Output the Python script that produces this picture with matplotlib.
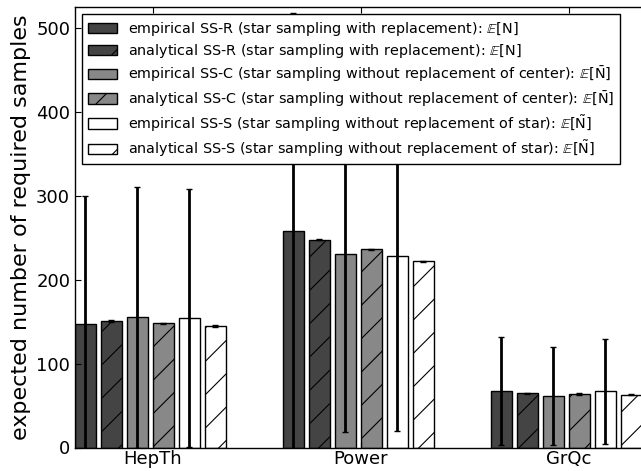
import numpy as np
import matplotlib
matplotlib.use("Agg")
import matplotlib.pyplot as plt

plt.rcParams['hatch.linewidth'] = 0.8
plt.rcParams['font.family'] = ['DejaVu Sans']
plt.rcParams['mathtext.fontset'] = 'dejavusans'

datasets = ["HepTh", "Power", "GrQc"]
labels = [
    r"empirical SS-R (star sampling with replacement): $\mathbb{E}[\mathrm{N}]$",
    r"analytical SS-R (star sampling with replacement): $\mathbb{E}[\mathrm{N}]$",
    r"empirical SS-C (star sampling without replacement of center): $\mathbb{E}[\bar{\mathrm{N}}]$",
    r"analytical SS-C (star sampling without replacement of center): $\mathbb{E}[\bar{\mathrm{N}}]$",
    r"empirical SS-S (star sampling without replacement of star): $\mathbb{E}[\tilde{\mathrm{N}}]$",
    r"analytical SS-S (star sampling without replacement of star): $\mathbb{E}[\tilde{\mathrm{N}}]$",
]
means = [
    [146.7, 257.7, 67.3],   # empirical SS-R
    [150.6, 247.9, 64.5],   # analytical SS-R
    [155.0, 231.2, 61.3],   # empirical SS-C
    [147.8, 236.0, 63.7],   # analytical SS-C
    [154.5, 228.8, 66.9],   # empirical SS-S
    [145.0, 222.0, 62.9],   # analytical SS-S
]
errors = [
    [153.0, 260.5, 64.6],
    [0.8, 0.8, 0.8],
    [155.5, 213.0, 58.7],
    [0.8, 0.8, 0.8],
    [153.5, 209.5, 62.3],
    [0.8, 0.8, 0.8],
]
colors = ["#444444", "#444444", "#888888", "#888888", "white", "white"]
hatches = [None, "/", None, "/", None, "/"]

fig = plt.figure(figsize=(6.41, 4.71), dpi=100)
ax = fig.add_axes([75/641, 23.5/471, 572/641, 440.5/471])

ind = np.arange(len(datasets))
width = 0.1
step = 0.125
for i in range(6):
    ax.bar(ind + i*step, means[i], width, align='edge', color=colors[i],
           edgecolor='black', linewidth=1.0, hatch=hatches[i], label=labels[i],
           yerr=errors[i], error_kw=dict(ecolor='black', elinewidth=2.0,
                                         capsize=2.5, capthick=1.0))

ax.set_xlim(0, 2.75)
ax.set_ylim(0, 525)
ax.set_xticks(ind + 0.375)
ax.set_xticklabels(datasets, fontsize=13)
ax.set_yticks([0, 100, 200, 300, 400, 500])
ax.tick_params(axis='y', labelsize=13)
ax.tick_params(direction='in', top=True, right=True, length=4, width=0.8)
ax.tick_params(axis='x', pad=2)
ax.set_ylabel("expected number of required samples", fontsize=16)
for s in ax.spines.values():
    s.set_linewidth(1.0)

leg = ax.legend(loc='upper left', bbox_to_anchor=(7/572, 1 - 7/440.5),
                borderaxespad=0, fontsize=10.4, frameon=True, fancybox=False,
                framealpha=1, edgecolor='black', handlelength=2.0,
                handleheight=0.7, handletextpad=0.8, labelspacing=0.3,
                borderpad=0.4)
leg.get_frame().set_linewidth(1.0)

fig.savefig("out.png", dpi=100)
